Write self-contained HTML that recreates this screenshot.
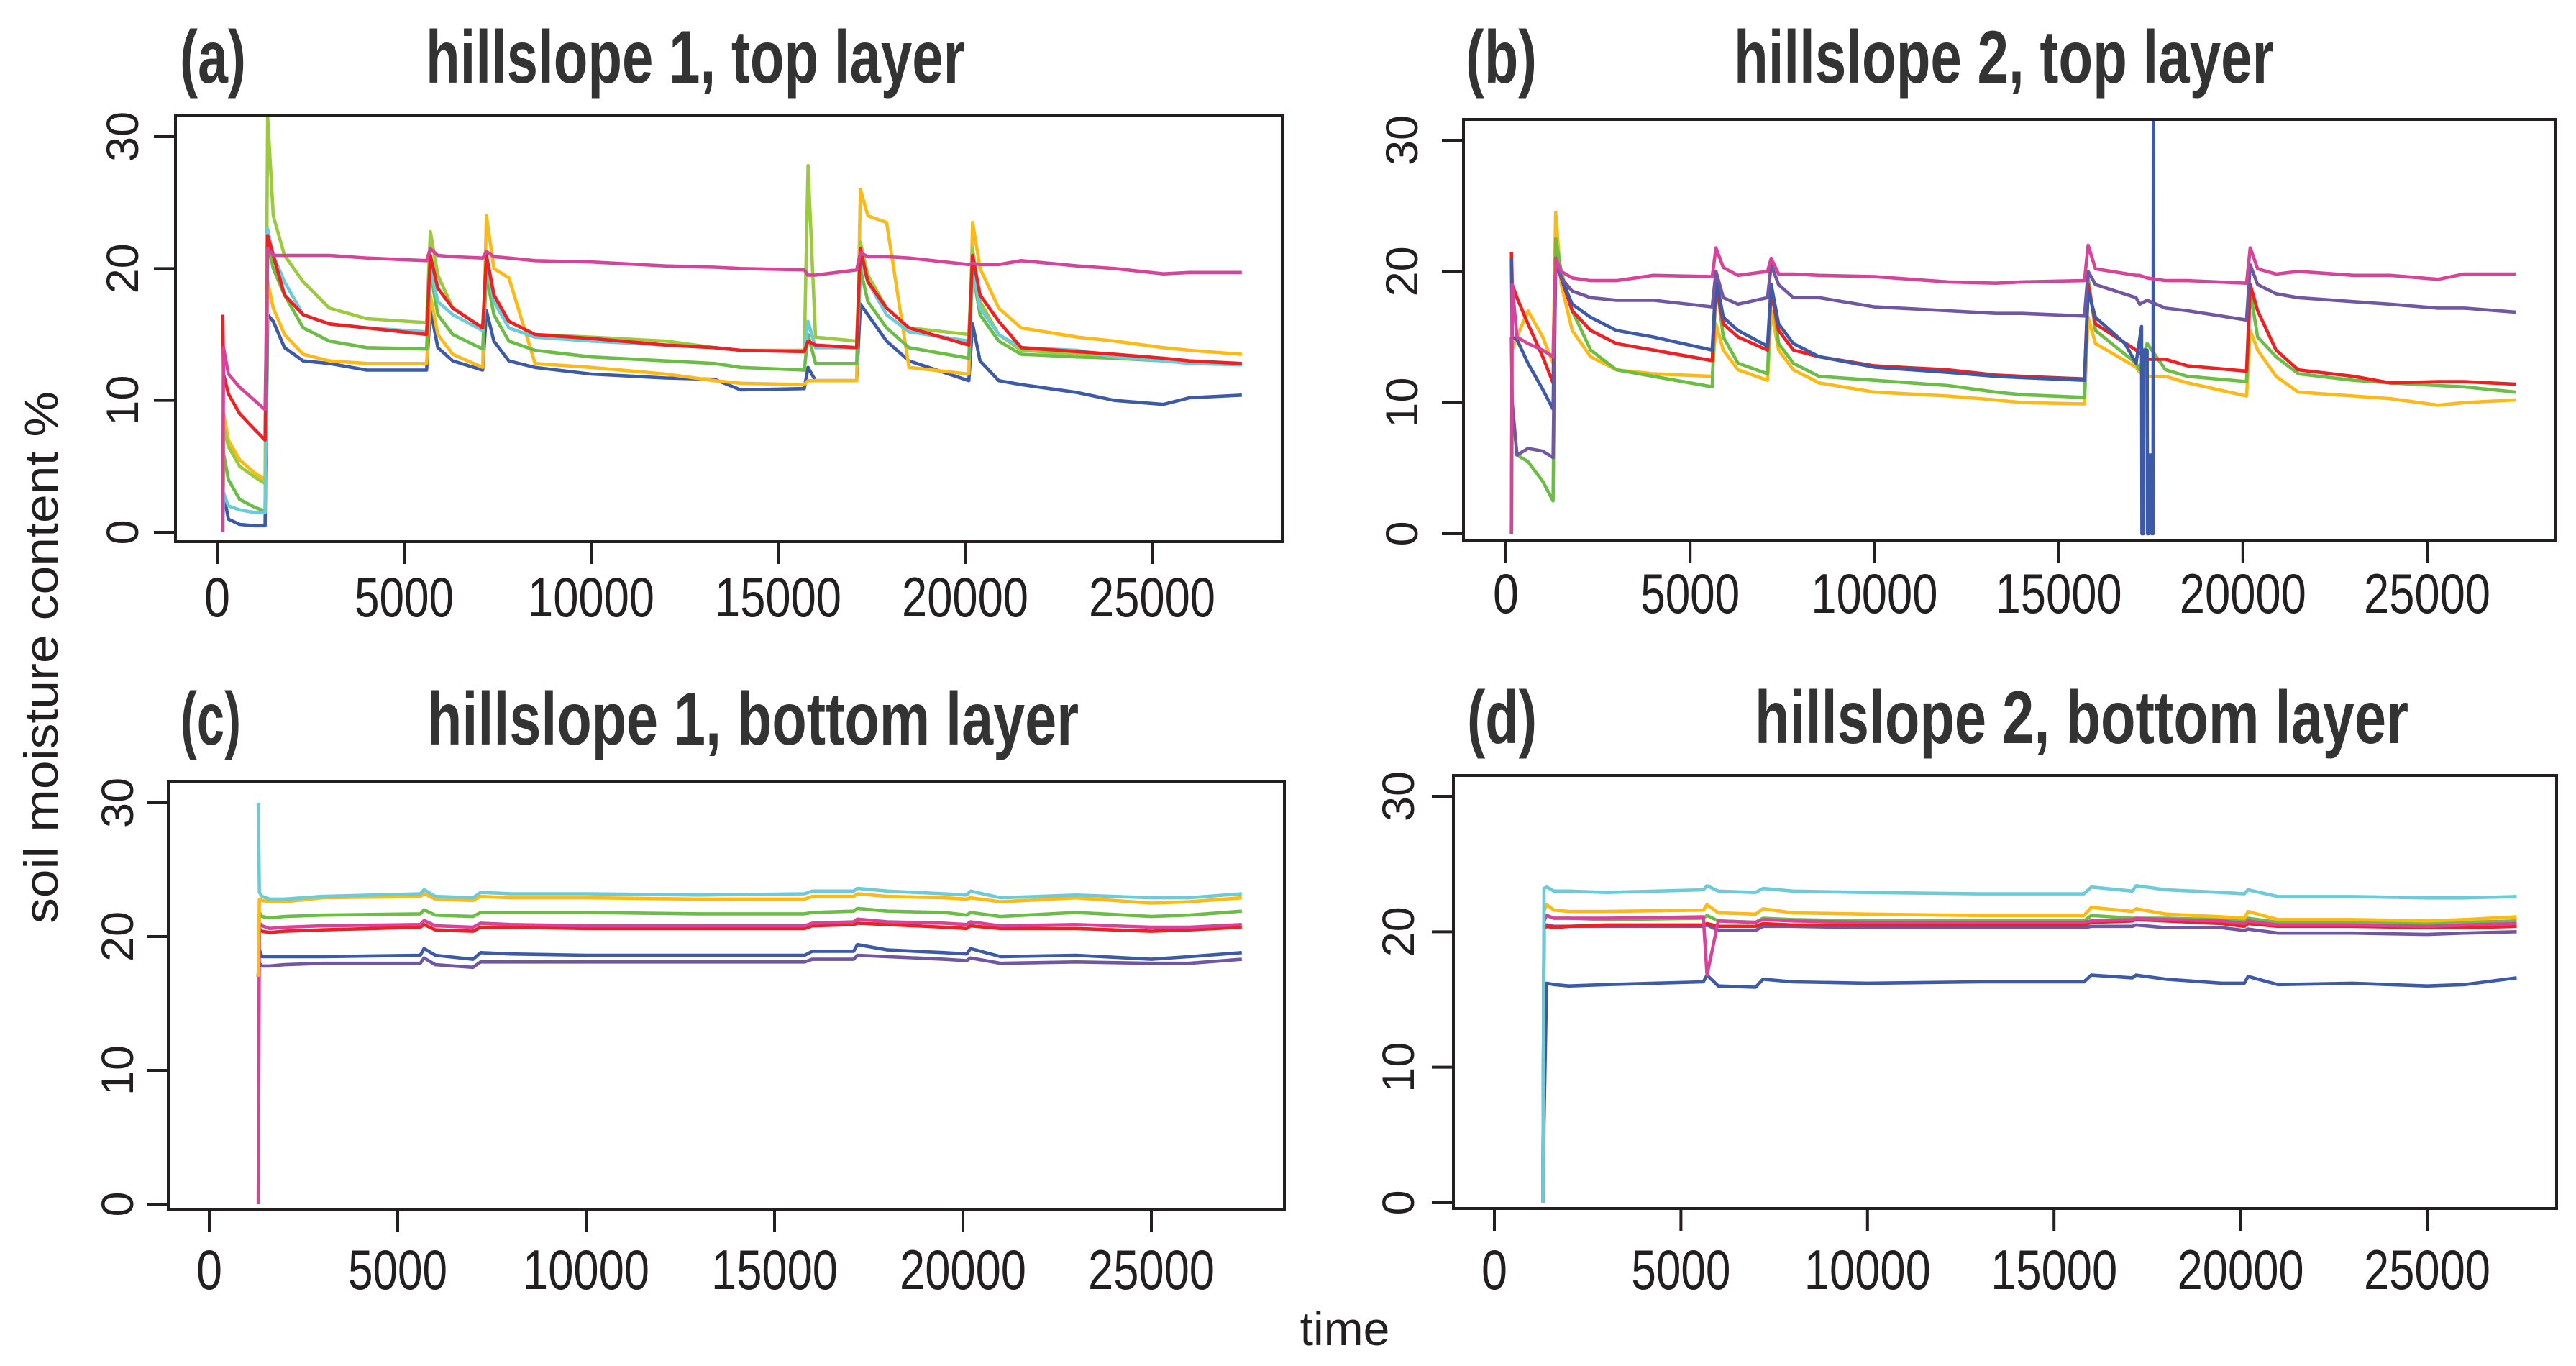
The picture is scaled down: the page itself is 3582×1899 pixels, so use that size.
<!DOCTYPE html>
<html><head><meta charset="utf-8"><style>
html,body{margin:0;padding:0;background:#fff;}
svg{display:block;}
text{font-family:"Liberation Sans",Arial,sans-serif;fill:#231f20;}
.ttl{font-weight:bold;fill:#333;}
</style></head><body>
<svg id="fig" width="3582" height="1899" viewBox="0 0 3582 1899" xmlns="http://www.w3.org/2000/svg">
<text x="80" y="914" transform="rotate(-90 80 914)" text-anchor="middle" font-size="66" textLength="740" lengthAdjust="spacingAndGlyphs">soil moisture content %</text>
<text x="1870" y="1870" text-anchor="middle" font-size="66">time</text>
</svg>
<script>
// ---- data ----
const xTicks = [0, 5000, 10000, 15000, 20000, 25000];
const yTicks = [0, 10, 20, 30];
const tTop = [150,170,300,600,1000,1280,1350,1500,1800,2300,3000,4000,5600,5700,5900,6300,7100,7200,7400,7800,8500,10000,12000,13300,14000,15700,15800,16000,17100,17200,17400,17900,18500,20100,20200,20400,20900,21500,23000,24000,25300,26000,27400];
const tBot = [1300,1330,1400,1600,2000,3000,5600,5700,6000,7000,7200,8000,10000,13000,15800,16000,17100,17200,18000,19500,20100,20200,21000,23000,25000,26000,27400];

// panel a
const aBlue = [0,3,1,0.6,0.5,0.5,16.5,16,14,13,12.8,12.3,12.3,17,14,13,12.3,16.8,14.5,13,12.5,12,11.7,11.6,10.8,10.9,12.5,11.5,11.5,17.3,16.5,14.5,13,11.5,15.8,13,11.5,11.2,10.6,10,9.7,10.2,10.4];
const aYellow = [0,9,7,5.5,4.5,4,19,17,15,13.5,13,12.8,12.8,18,15,13.5,12.5,24,20,19.3,12.8,12.5,12,11.5,11.3,11.2,11.5,11.5,11.5,26,24,23.5,12.5,12,23.5,20,17,15.5,14.8,14.5,14,13.8,13.5];
const aGreen = [0,6,4,2.5,1.9,1.6,22,20,18,15.5,14.5,14,13.9,19.8,16.5,15,13.9,19.5,16.5,14.5,13.8,13.3,13,12.8,12.5,12.3,15,12.8,12.8,20,17.5,15.5,14,13.2,19.8,16.5,14.5,13.5,13.3,13.2,13,12.9,12.7];
const aLightGreen = [0,8,6.5,5,4.2,3.7,31.5,24,21,19,17,16.2,15.9,22.8,19.5,17,15.5,21,18,16,15,14.8,14.5,14,13.8,13.8,27.8,14.8,14.5,22,19.5,17,15.5,15,21.5,17.5,15,13.8,13.5,13.5,13.2,13,12.7];
const aCyan = [0,3,2,1.7,1.5,1.5,23,21,19,16.5,15.8,15.5,15.2,20,17.5,16.5,15.3,20.5,17.5,15.5,14.8,14.5,14.2,14,13.8,13.7,16,14,14,20.8,19,16.5,15.2,14.5,20,17,15,14,13.8,13.3,13,12.8,12.7];
const aRed = [16.5,12,10.5,9,7.8,7,22.5,21,18,16.5,15.8,15.5,15,21,18.5,17,15.5,21,18,16,15,14.7,14.2,14,13.8,13.7,14.5,14.2,14,21.5,19,17,15.5,14.2,21,18,16,14,13.7,13.5,13.2,13,12.8];
const aMagenta = [0,14,12,11,10,9.3,21.5,21,21,21,21,20.8,20.6,21.5,21,20.9,20.8,21.3,20.9,20.8,20.6,20.5,20.2,20.1,20,19.9,19.5,19.5,19.9,21.2,20.9,20.9,20.8,20.3,20.4,20.3,20.3,20.6,20.2,20,19.6,19.7,19.7];

// panel b
const bYellow = [0,14,15,17,15,13,24.5,19,15.5,13.5,12.5,12.2,12,16,14,12.5,11.7,17,14,12.5,11.5,10.8,10.5,10.2,10,9.9,16.5,14.5,12.7,12.3,12,12,11.5,10.5,15.5,14,12,10.8,10.5,10.3,9.8,10,10.2];
const bGreen = [0,10,6,5.5,4,2.5,22.5,20,17,14,12.5,12,11.2,19.5,15,13,12.2,19,14.5,13,12,11.7,11.3,10.8,10.6,10.4,19.5,15.5,13,12.5,14.5,12.5,12,11.6,18.5,15,13.5,12.2,11.7,11.5,11.3,11.2,10.8];
const bRed = [21.5,19,18,16,13.5,11.5,21,19.5,17,15.5,14.5,14,13.2,19,16,15,14,18.5,15.5,14,13.5,12.8,12.5,12.1,12,11.8,19,16,14,13.8,13.3,13.3,12.8,12.4,19,17,14,12.5,12,11.5,11.6,11.6,11.4];
const bPurple = [15,10,6,6.5,6.3,5.8,20.5,19.5,18.5,18,17.8,17.8,17.3,20,18,17.5,18,20.5,19,18,18,17.3,17,16.8,16.8,16.6,20,19,18,17.5,17.8,17.2,17,16.3,20.5,19,18.3,18,17.7,17.5,17.2,17.2,16.9];
const bMagenta = [0,19,15,14.5,14,13.5,21,20,19.5,19.3,19.3,19.7,19.6,21.8,20.3,19.7,20,21,19.8,19.8,19.7,19.6,19.2,19.1,19.2,19.3,22,20.2,19.7,19.7,19.5,19.3,19.3,19.1,21.8,20.2,19.8,20,19.7,19.7,19.4,19.8,19.8];
const tBlueB = [150,170,300,600,1000,1280,1350,1500,1800,2300,3000,4000,5600,5700,5900,6300,7100,7200,7400,7800,8500,10000,12000,13300,14000,15700,15800,16000,16800,17100,17250,17260,17300,17310,17400,17410,17440,17450,17520,17530,17560,17570];
const bBlue = [21,15,14.8,13,11,9.5,21,19.5,17.5,16.5,15.5,15,14,19.5,16.5,15.5,14.3,19,16,14.5,13.5,12.7,12.3,12,11.9,11.7,18.5,16.5,14.5,13,15.8,0,0,14,14,0,0,6,6,0,0,31.5];

// panel c
const cPurple = [17,18,17.8,17.8,17.9,18,18,18.4,17.9,17.7,18.1,18.1,18.1,18.1,18.1,18.3,18.3,18.6,18.5,18.3,18.2,18.4,18,18.1,18,18,18.3];
const cBlue = [17,19,18.5,18.5,18.5,18.5,18.6,19.1,18.6,18.3,18.8,18.7,18.6,18.6,18.6,18.9,18.9,19.4,19,18.8,18.7,19.1,18.5,18.6,18.3,18.5,18.8];
const cRed = [17,20.6,20.4,20.3,20.4,20.5,20.7,20.9,20.5,20.4,20.7,20.7,20.6,20.6,20.6,20.8,20.9,21,20.9,20.7,20.6,20.8,20.6,20.6,20.4,20.5,20.7];
const cMagenta = [0,21,20.8,20.6,20.7,20.8,20.9,21.2,20.8,20.7,21,20.9,20.8,20.8,20.8,21,21.1,21.3,21.1,21,20.9,21.1,20.8,20.9,20.7,20.7,20.9];
const cGreen = [17,21.8,21.5,21.4,21.5,21.6,21.7,22,21.6,21.5,21.8,21.8,21.8,21.7,21.7,21.8,21.9,22.1,21.9,21.8,21.6,21.8,21.5,21.8,21.5,21.6,21.9];
const cYellow = [17,22.8,22.7,22.6,22.6,22.9,23,23.2,22.8,22.7,23,22.9,22.9,22.8,22.8,23,23,23.2,23,22.9,22.8,22.9,22.6,22.9,22.5,22.6,22.9];
const cCyan = [30,23.3,23,22.8,22.8,23,23.2,23.5,23,22.9,23.3,23.2,23.2,23.1,23.2,23.4,23.4,23.6,23.4,23.2,23.1,23.4,22.9,23.1,22.9,22.9,23.2];

// panel d
const dBlue = [0,6,16.2,16.1,16,16.1,16.3,16.8,16,15.9,16.5,16.3,16.2,16.3,16.3,16.8,16.6,16.8,16.5,16.2,16.2,16.7,16.1,16.2,16,16.1,16.6];
const dPurple = [0,20.5,20.5,20.4,20.4,20.4,20.4,20.5,20.1,20.1,20.4,20.4,20.3,20.3,20.3,20.4,20.4,20.5,20.3,20.3,20.1,20.2,19.9,19.9,19.8,19.9,20];
const dRed = [0,20.2,20.4,20.3,20.4,20.5,20.5,20.6,20.4,20.4,20.6,20.5,20.5,20.5,20.5,20.7,20.8,20.9,20.8,20.6,20.4,20.6,20.4,20.4,20.3,20.3,20.4];
const dGreen = [0,21,21.2,21,21,20.9,21,21.2,20.8,20.7,21,20.9,20.8,20.8,20.8,21.2,21,21,21,20.9,20.8,21,20.7,20.7,20.6,20.7,20.8];
const dYellow = [0,21.5,22,21.6,21.5,21.5,21.6,22,21.4,21.3,21.7,21.4,21.3,21.2,21.2,21.8,21.5,21.7,21.3,21.1,21,21.5,20.9,20.9,20.8,20.9,21.1];
const dMagenta = [0,20.8,21.2,21,21,21,21.1,16.8,20.8,20.7,20.9,20.8,20.7,20.7,20.7,20.8,20.9,21,20.9,20.8,20.6,20.8,20.5,20.5,20.4,20.5,20.6];
const dCyan = [0,23.2,23.3,23,23,22.9,23.1,23.4,23,22.9,23.2,23,22.9,22.8,22.8,23.3,23,23.4,23.1,22.9,22.8,23.1,22.6,22.6,22.5,22.5,22.6];

// ---- rendering ----
const C = {red:'#ed2024', magenta:'#d6449a', lightgreen:'#9bcb3c', green:'#6bbd45', yellow:'#fdb915', cyan:'#6ccbd8', blue:'#3d5aa8', purple:'#7156a3'};
const panels = [
 {id:'a', label:'(a)', title:'hillslope 1, top layer', L:244,R:1783,T:160,B:753, x0:302,x25:1602, y0:740,y30:190, labX:250,labLen:92, titX:592,titLen:750, titY:115, ylabX:192, xlabY:857,
  series:[['blue',tTop,aBlue],['yellow',tTop,aYellow],['green',tTop,aGreen],['lightgreen',tTop,aLightGreen],['cyan',tTop,aCyan],['red',tTop,aRed],['magenta',tTop,aMagenta]]},
 {id:'b', label:'(b)', title:'hillslope 2, top layer', L:2035,R:3554,T:166,B:752, x0:2094,x25:3375, y0:742,y30:195, labX:2038,labLen:99, titX:2411,titLen:751, titY:115, ylabX:1971, xlabY:852,
  series:[['yellow',tTop,bYellow],['green',tTop,bGreen],['red',tTop,bRed],['blue',tBlueB,bBlue],['purple',tTop,bPurple],['magenta',tTop,bMagenta]]},
 {id:'c', label:'(c)', title:'hillslope 1, bottom layer', L:234,R:1786,T:1087,B:1682, x0:291,x25:1601, y0:1674,y30:1116, labX:251,labLen:84, titX:594,titLen:906, titY:1035, ylabX:185, xlabY:1792,
  series:[['purple',tBot,cPurple],['blue',tBot,cBlue],['red',tBot,cRed],['magenta',tBot,cMagenta],['green',tBot,cGreen],['yellow',tBot,cYellow],['cyan',tBot,cCyan]]},
 {id:'d', label:'(d)', title:'hillslope 2, bottom layer', L:2021,R:3555,T:1078,B:1680, x0:2078,x25:3375, y0:1672,y30:1107, labX:2040,labLen:97, titX:2440,titLen:909, titY:1033, ylabX:1966, xlabY:1792,
  series:[['blue',tBot,dBlue],['purple',tBot,dPurple],['red',tBot,dRed],['green',tBot,dGreen],['yellow',tBot,dYellow],['magenta',tBot,dMagenta],['cyan',tBot,dCyan]]}
];
const NS='http://www.w3.org/2000/svg';
const svg=document.getElementById('fig');
function mk(tag, parent){const e=document.createElementNS(NS,tag);parent.appendChild(e);return e;}
panels.forEach(p=>{
  const g=mk('g',svg);
  
  
  const xs=t=>p.x0+(t/25000)*(p.x25-p.x0);
  const ys=v=>p.y0-(v/30)*(p.y0-p.y30);
  const lab=mk('text',g);
  
  
  lab.setAttribute('class','ttl');lab.setAttribute('x',p.labX);lab.setAttribute('y',p.titY);
  lab.setAttribute('font-size','104');lab.setAttribute('textLength',p.labLen);lab.setAttribute('lengthAdjust','spacingAndGlyphs');
  lab.textContent=p.label;
  const tt=mk('text',g);
  
  
  tt.setAttribute('class','ttl');tt.setAttribute('x',p.titX);tt.setAttribute('y',p.titY);
  tt.setAttribute('font-size','104');tt.setAttribute('textLength',p.titLen);tt.setAttribute('lengthAdjust','spacingAndGlyphs');
  tt.textContent=p.title;
  const sg=mk('g',g);
  
  
  p.series.forEach(s=>{
    const [col,ts,vs]=s;
    const pts=ts.map((t,i)=>xs(t).toFixed(1)+','+ys(vs[i]).toFixed(1)).join(' ');
    const pl=mk('polyline',sg);
    
    
    pl.setAttribute('points',pts);pl.setAttribute('fill','none');pl.setAttribute('stroke',C[col]);
    pl.setAttribute('stroke-width','4.6');pl.setAttribute('stroke-linejoin','round');
  });
  const bx=mk('rect',g);
  
  
  bx.setAttribute('x',p.L);bx.setAttribute('y',p.T);bx.setAttribute('width',p.R-p.L);bx.setAttribute('height',p.B-p.T);
  bx.setAttribute('fill','none');bx.setAttribute('stroke','#231f20');bx.setAttribute('stroke-width','4');
  xTicks.forEach(t=>{
    const x=xs(t);
    const ln=mk('line',g);
    
    
    ln.setAttribute('x1',x);ln.setAttribute('x2',x);ln.setAttribute('y1',p.B);ln.setAttribute('y2',p.B+31);
    ln.setAttribute('stroke','#231f20');ln.setAttribute('stroke-width','4');
    const tx=mk('text',g);
    
    
    tx.setAttribute('x',x);tx.setAttribute('y',p.xlabY);tx.setAttribute('text-anchor','middle');tx.setAttribute('font-size','78');
    const s=String(t);
    tx.setAttribute('textLength',s.length===5?176:(s.length===4?138:36));tx.setAttribute('lengthAdjust','spacingAndGlyphs');
    tx.textContent=s;
  });
  yTicks.forEach(v=>{
    const y=ys(v);
    const ln=mk('line',g);
    
    
    ln.setAttribute('x1',p.L-30);ln.setAttribute('x2',p.L);ln.setAttribute('y1',y);ln.setAttribute('y2',y);
    ln.setAttribute('stroke','#231f20');ln.setAttribute('stroke-width','4');
    const tx=mk('text',g);
    
    
    tx.setAttribute('x',p.ylabX);tx.setAttribute('y',y);tx.setAttribute('text-anchor','middle');tx.setAttribute('font-size','63');
    tx.setAttribute('transform','rotate(-90 '+p.ylabX+' '+y+')');
    tx.textContent=String(v);
  });
});
</script>
</body></html>
